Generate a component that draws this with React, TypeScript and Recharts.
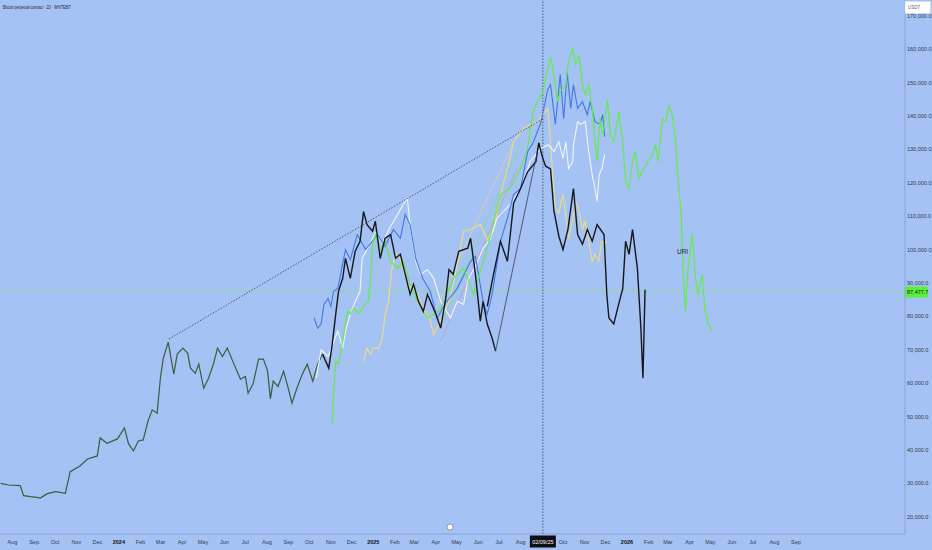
import React from 'react';
import {
  ComposedChart,
  Line,
  XAxis,
  YAxis,
  ReferenceLine,
  ReferenceDot,
} from 'recharts';

// month ticks on the time axis (Sep 2025 is covered by the cursor date tag)
const monthTicks: string[] = [
  '2023-08-01', '2023-09-01', '2023-10-01', '2023-11-01', '2023-12-01',
  '2024-01-01', '2024-02-01', '2024-03-01', '2024-04-01', '2024-05-01', '2024-06-01',
  '2024-07-01', '2024-08-01', '2024-09-01', '2024-10-01', '2024-11-01', '2024-12-01',
  '2025-01-01', '2025-02-01', '2025-03-01', '2025-04-01', '2025-05-01', '2025-06-01',
  '2025-07-01', '2025-08-01', '2025-10-01', '2025-11-01', '2025-12-01',
  '2026-01-01', '2026-02-01', '2026-03-01', '2026-04-01', '2026-05-01', '2026-06-01',
  '2026-07-01', '2026-08-01', '2026-09-01',
];
const monthLabels: string[] = [
  'Aug', 'Sep', 'Oct', 'Nov', 'Dec',
  '2024', 'Feb', 'Mar', 'Apr', 'May', 'Jun', 'Jul', 'Aug', 'Sep', 'Oct', 'Nov', 'Dec',
  '2025', 'Feb', 'Mar', 'Apr', 'May', 'Jun', 'Jul', 'Aug', 'Oct', 'Nov', 'Dec',
  '2026', 'Feb', 'Mar', 'Apr', 'May', 'Jun', 'Jul', 'Aug', 'Sep',
];
const priceTicks: number[] = [
  20000, 30000, 40000, 50000, 60000, 70000, 80000, 90000,
  100000, 110000, 120000, 130000, 140000, 150000, 160000, 170000,
];

const lastPrice = 87477.7;
const cursorDate = '2025-09-02';

// daily candles, sampled
const candles: [string, number][] = [
  ['2023-07-15', 30000], ['2023-07-26', 29500], ['2023-08-12', 29300], ['2023-08-17', 26300],
  ['2023-08-27', 26000], ['2023-09-05', 25800], ['2023-09-10', 25600], ['2023-09-20', 26900],
  ['2023-10-02', 27500], ['2023-10-16', 27000], ['2023-10-23', 33500], ['2023-11-06', 35200],
  ['2023-11-17', 37300], ['2023-12-01', 38200], ['2023-12-05', 43600], ['2023-12-15', 42000],
  ['2023-12-30', 43300], ['2024-01-09', 46600], ['2024-01-15', 41800], ['2024-01-22', 39700],
  ['2024-01-29', 42700], ['2024-02-05', 43000], ['2024-02-12', 48700], ['2024-02-18', 52000],
  ['2024-02-25', 51000], ['2024-03-01', 62000], ['2024-03-05', 67500], ['2024-03-12', 72300],
  ['2024-03-20', 62700], ['2024-03-25', 68700], ['2024-04-02', 70500], ['2024-04-09', 69000],
  ['2024-04-13', 64500], ['2024-04-20', 63000], ['2024-04-25', 65700], ['2024-05-02', 58500],
  ['2024-05-09', 61500], ['2024-05-16', 65700], ['2024-05-22', 70500], ['2024-05-29', 68000],
  ['2024-06-05', 70500], ['2024-06-14', 66000], ['2024-06-24', 61200], ['2024-07-01', 62000],
  ['2024-07-05', 57000], ['2024-07-12', 59700], ['2024-07-20', 67200], ['2024-07-27', 67200],
  ['2024-08-02', 63600], ['2024-08-06', 55300], ['2024-08-10', 60600], ['2024-08-17', 59000],
  ['2024-08-25', 63600], ['2024-09-01', 58200], ['2024-09-06', 54000], ['2024-09-14', 59000],
  ['2024-09-21', 62700], ['2024-09-28', 65700], ['2024-10-06', 60600], ['2024-10-13', 65700],
  ['2024-10-20', 68700],
];

const blackA: [string, number][] = [
  ['2024-10-20', 68700], ['2024-10-29', 64500], ['2024-11-03', 71700], ['2024-11-08', 80700],
  ['2024-11-12', 87500], ['2024-11-18', 91400], ['2024-11-22', 97400], ['2024-11-29', 91400],
  ['2024-12-06', 99500], ['2024-12-13', 102500], ['2024-12-18', 111400], ['2024-12-23', 107500],
  ['2024-12-31', 105500], ['2025-01-04', 108500], ['2025-01-11', 97400], ['2025-01-18', 103400],
  ['2025-01-26', 104500], ['2025-02-02', 97400], ['2025-02-09', 98600], ['2025-02-16', 92600],
  ['2025-02-23', 86600], ['2025-02-28', 89600], ['2025-03-07', 84500], ['2025-03-14', 81500],
  ['2025-03-20', 86600], ['2025-04-01', 80700], ['2025-04-08', 76500], ['2025-04-15', 85000],
  ['2025-04-20', 94000], ['2025-04-26', 92600], ['2025-05-04', 99500], ['2025-05-17', 100400],
  ['2025-05-21', 103400], ['2025-05-28', 92600], ['2025-06-04', 78600], ['2025-06-08', 84500],
  ['2025-06-14', 77700], ['2025-06-21', 73500], ['2025-06-26', 69600],
];

const blackB: [string, number][] = [
  ['2025-06-14', 83000], ['2025-06-23', 92600], ['2025-07-03', 102500], ['2025-07-13', 96500],
  ['2025-07-22', 114000], ['2025-08-01', 118300], ['2025-08-11', 123300], ['2025-08-23', 126300],
  ['2025-08-27', 132000], ['2025-09-02', 127300], ['2025-09-06', 125000], ['2025-09-13', 124200],
  ['2025-09-18', 111500], ['2025-09-25', 104000], ['2025-10-01', 100000], ['2025-10-08', 106000],
  ['2025-10-16', 118300], ['2025-10-22', 104500], ['2025-10-29', 101600], ['2025-11-05', 106000],
  ['2025-11-12', 102500], ['2025-11-19', 107500], ['2025-11-29', 104500], ['2025-12-03', 86600],
  ['2025-12-06', 79500], ['2025-12-13', 77700], ['2025-12-20', 83600], ['2025-12-26', 88400],
  ['2025-12-30', 102500], ['2026-01-04', 98600], ['2026-01-09', 106000], ['2026-01-16', 94400],
  ['2026-01-21', 76500], ['2026-01-24', 61500], ['2026-01-27', 88000],
];

const jumpLine: [string, number][] = [['2025-06-26', 69600], ['2025-08-25', 129300]];

const blueLine: [string, number][] = [
  ['2024-10-08', 79500], ['2024-10-13', 76500], ['2024-10-18', 77700], ['2024-10-22', 83600],
  ['2024-10-28', 85400], ['2024-11-01', 83000], ['2024-11-05', 87500], ['2024-11-11', 88400],
  ['2024-11-22', 100000], ['2024-11-29', 97000], ['2024-12-09', 104500], ['2024-12-21', 100000],
  ['2025-01-07', 104500], ['2025-01-18', 101000], ['2025-01-30', 106000], ['2025-02-09', 103400],
  ['2025-02-16', 110500], ['2025-02-23', 107500], ['2025-03-03', 97400], ['2025-03-13', 91400],
  ['2025-03-24', 87500], ['2025-04-03', 79500], ['2025-04-15', 84000], ['2025-05-02', 88400],
  ['2025-05-21', 96500], ['2025-05-28', 98000], ['2025-06-08', 84500], ['2025-06-14', 80700],
  ['2025-06-21', 86600], ['2025-07-03', 102500], ['2025-07-13', 109400], ['2025-07-22', 116500],
  ['2025-08-01', 118300], ['2025-08-11', 129300], ['2025-08-19', 132000], ['2025-08-30', 138000],
  ['2025-09-09', 148000], ['2025-09-13', 149400], ['2025-09-20', 137500], ['2025-09-27', 152400],
  ['2025-10-02', 139200], ['2025-10-07', 153000], ['2025-10-12', 142300], ['2025-10-16', 149400],
  ['2025-10-22', 142300], ['2025-10-29', 144300], ['2025-11-05', 140400], ['2025-11-09', 144300],
  ['2025-11-16', 138300], ['2025-11-23', 137500], ['2025-11-27', 140400], ['2025-11-30', 133800],
];

const greenLine: [string, number][] = [
  ['2024-11-03', 47800], ['2024-11-05', 57600], ['2024-11-08', 66600], ['2024-11-12', 65700],
  ['2024-11-18', 72600], ['2024-11-25', 81500], ['2024-11-29', 80700], ['2024-12-04', 82500],
  ['2024-12-11', 80700], ['2024-12-18', 83000], ['2024-12-25', 84500], ['2024-12-28', 91400],
  ['2024-12-31', 101600], ['2025-01-04', 104500], ['2025-01-11', 99500], ['2025-01-18', 102500],
  ['2025-01-26', 96500], ['2025-02-05', 94400], ['2025-02-13', 96500], ['2025-02-23', 89600],
  ['2025-03-06', 84500], ['2025-03-14', 81500], ['2025-03-21', 79500], ['2025-04-08', 82000],
  ['2025-04-26', 91400], ['2025-05-11', 94400], ['2025-05-25', 86600], ['2025-06-14', 100400],
  ['2025-07-03', 116500], ['2025-07-17', 118300], ['2025-08-01', 124300], ['2025-08-11', 130300],
  ['2025-08-19', 141300], ['2025-08-25', 144300], ['2025-09-02', 147300], ['2025-09-09', 154200],
  ['2025-09-13', 157800], ['2025-09-18', 152400], ['2025-09-23', 144300], ['2025-09-27', 147300],
  ['2025-10-05', 149400], ['2025-10-09', 156300], ['2025-10-15', 160200], ['2025-10-19', 155400],
  ['2025-10-24', 158300], ['2025-10-29', 149400], ['2025-11-02', 146400], ['2025-11-07', 149400],
  ['2025-11-12', 142300], ['2025-11-16', 132300], ['2025-11-19', 126400], ['2025-11-23', 139200],
  ['2025-11-27', 134400], ['2025-12-04', 144900], ['2025-12-08', 134400], ['2025-12-13', 132300],
  ['2025-12-20', 141300], ['2025-12-26', 132300], ['2025-12-30', 120300], ['2026-01-04', 118300],
  ['2026-01-09', 126400], ['2026-01-13', 129400], ['2026-01-18', 121300], ['2026-01-25', 124300],
  ['2026-01-31', 126400], ['2026-02-07', 128500], ['2026-02-11', 131400], ['2026-02-15', 126400],
  ['2026-02-21', 139200], ['2026-02-26', 138300], ['2026-03-02', 143400], ['2026-03-07', 140400],
  ['2026-03-12', 132300], ['2026-03-16', 120300], ['2026-03-20', 110500], ['2026-03-23', 92600],
  ['2026-03-26', 81500], ['2026-03-30', 94400], ['2026-04-05', 104500], ['2026-04-09', 92600],
  ['2026-04-13', 86600], ['2026-04-19', 92600], ['2026-04-23', 82500], ['2026-04-28', 77700],
  ['2026-05-04', 75600],
];

const whiteLine: [string, number][] = [
  ['2024-10-11', 61500], ['2024-10-18', 70000], ['2024-10-28', 68000], ['2024-11-11', 75600],
  ['2024-11-18', 70500], ['2024-11-22', 75600], ['2024-11-29', 80700], ['2024-12-06', 84500],
  ['2024-12-13', 87500], ['2024-12-16', 97400], ['2024-12-23', 100000], ['2025-01-04', 105000],
  ['2025-01-14', 102000], ['2025-01-26', 107000], ['2025-02-05', 110500], ['2025-02-13', 113500],
  ['2025-02-19', 115300], ['2025-02-23', 107500], ['2025-03-03', 96500], ['2025-03-10', 92600],
  ['2025-03-20', 94000], ['2025-03-29', 91400], ['2025-04-08', 84500], ['2025-04-22', 79500],
  ['2025-05-02', 84500], ['2025-05-11', 83600], ['2025-05-17', 91000], ['2025-05-28', 95000],
  ['2025-06-08', 100400], ['2025-06-18', 103000], ['2025-06-28', 109400], ['2025-07-17', 113500],
  ['2025-08-01', 118300], ['2025-08-15', 126400], ['2025-08-30', 130300], ['2025-09-10', 131400],
  ['2025-09-18', 129400], ['2025-09-25', 132300], ['2025-10-01', 127300], ['2025-10-05', 132300],
  ['2025-10-09', 124300], ['2025-10-15', 126400], ['2025-10-16', 131400], ['2025-10-22', 138300],
  ['2025-10-26', 137500], ['2025-11-02', 138300], ['2025-11-07', 129400], ['2025-11-12', 122400],
  ['2025-11-15', 119500], ['2025-11-19', 114400], ['2025-11-22', 122400], ['2025-11-26', 124300],
  ['2025-11-30', 128500],
];

const yellowLine: [string, number][] = [
  ['2024-12-18', 66600], ['2024-12-23', 70500], ['2024-12-28', 68700], ['2025-01-01', 70500],
  ['2025-01-09', 70500], ['2025-01-14', 73500], ['2025-01-18', 80700], ['2025-01-23', 84500],
  ['2025-01-27', 93500], ['2025-02-02', 98600], ['2025-02-09', 97400], ['2025-02-19', 89600],
  ['2025-03-03', 87500], ['2025-03-14', 82500], ['2025-03-24', 78600], ['2025-03-29', 74700],
  ['2025-04-08', 79000], ['2025-04-22', 85400], ['2025-05-11', 105500], ['2025-05-21', 106000],
  ['2025-06-04', 107500], ['2025-06-14', 103000], ['2025-06-23', 106000], ['2025-07-03', 116500],
  ['2025-07-13', 124300], ['2025-07-22', 132300], ['2025-08-05', 136300], ['2025-08-15', 137500],
  ['2025-08-25', 138300], ['2025-09-09', 142300], ['2025-09-13', 132300], ['2025-09-16', 122400],
  ['2025-09-20', 112300], ['2025-09-25', 111000], ['2025-10-01', 116500], ['2025-10-05', 110000],
  ['2025-10-09', 103400], ['2025-10-15', 109000], ['2025-10-19', 114400], ['2025-10-24', 112000],
  ['2025-10-29', 106000], ['2025-11-02', 108500], ['2025-11-07', 102500], ['2025-11-12', 96500],
  ['2025-11-16', 98600], ['2025-11-21', 96500], ['2025-11-26', 102500], ['2025-11-30', 101600],
  ['2025-12-03', 102500],
];

// thin projection guides
const guideYellow: [string, number][] = [['2025-03-24', 78600], ['2025-07-22', 132300]];
const guideGreen: [string, number][] = [['2025-04-08', 77700], ['2025-08-01', 131700]];
const guidePink: [string, number][] = [['2025-04-08', 72600], ['2025-07-27', 124300]];

// dotted trend from the March 2024 top
const trendLine: [string, number][] = [['2024-03-13', 73200], ['2025-09-02', 139200]];

const toT = (d: string) => Date.parse(d + 'T00:00:00Z');
const rows = (list: [string, number][]) => list.map(([d, v]) => ({ t: toT(d), v }));

const tickTimes = monthTicks.map(toT);
const BG = '#a4c2f4';
const AXIS = '#89a5d3';
const TEXT = '#333c4a';
const FONT = '"Liberation Sans", Arial, sans-serif';

function TimeTick({ x, y, payload }: any) {
  const label = monthLabels[tickTimes.indexOf(payload.value)] ?? '';
  const isYear = /^\d{4}$/.test(label);
  return (
    <text x={x} y={y + 10} textAnchor="middle" fontSize={5.5} fontWeight={isYear ? 700 : 400}
      fill={isYear ? '#111' : TEXT} fontFamily={FONT}>
      {label}
    </text>
  );
}

function PriceTick({ x, y, payload }: any) {
  return (
    <text x={x + 2} y={y + 2} textAnchor="start" fontSize={5.5} fill={TEXT} fontFamily={FONT}>
      {payload.value.toLocaleString('en-US', { minimumFractionDigits: 1 })}
    </text>
  );
}

function PriceTag({ viewBox }: any) {
  const right = viewBox.x + viewBox.width;
  return (
    <g>
      <rect x={right} y={viewBox.y - 5} width={23} height={11} fill="#5af03c" rx={1} />
      <text x={right + 2} y={viewBox.y + 2.2} fontSize={5.5} fill="#152015" fontFamily={FONT}>
        {lastPrice.toLocaleString('en-US', { minimumFractionDigits: 1 })}
      </text>
    </g>
  );
}

function DateTag({ viewBox }: any) {
  const bottom = viewBox.y + viewBox.height;
  const [yy, mm, dd] = cursorDate.split('-');
  return (
    <g>
      <rect x={viewBox.x - 13} y={bottom + 1.5} width={26} height={12} fill="#0d0f14" />
      <text x={viewBox.x} y={bottom + 9.7} textAnchor="middle" fontSize={5.5} fill="#fff" fontFamily={FONT}>
        {`${dd}/${mm}/${yy.slice(2)}`}
      </text>
    </g>
  );
}

const lineProps = {
  dataKey: 'v',
  type: 'linear' as const,
  dot: false,
  activeDot: false,
  isAnimationActive: false,
};

export default function App() {
  return (
    <div style={{ position: 'absolute', left: 0, top: 0, width: 932, height: 550, background: BG }}>
      <ComposedChart width={932} height={550} margin={{ top: 0, right: 0, bottom: 0, left: 0 }}>
        <XAxis
          dataKey="t"
          type="number"
          scale="time"
          domain={[toT('2023-07-14'), toT('2027-02-05')]}
          allowDataOverflow
          ticks={tickTimes}
          interval={0}
          tick={<TimeTick />}
          tickLine={false}
          tickSize={0}
          tickMargin={0}
          height={16}
          stroke={AXIS}
        />
        <YAxis
          orientation="right"
          type="number"
          domain={[14819, 174765]}
          allowDataOverflow
          ticks={priceTicks}
          interval={0}
          tick={<PriceTick />}
          tickLine={false}
          tickSize={0}
          tickMargin={0}
          width={27}
          stroke={AXIS}
        />
        <ReferenceLine y={lastPrice} stroke="#8fdc8a" strokeWidth={0.8} label={<PriceTag />} />
        <ReferenceLine x={toT(cursorDate)} stroke="#3a3f4a" strokeWidth={0.8} strokeDasharray="1.5 1.5" label={<DateTag />} />

        <Line {...lineProps} data={rows(candles)} stroke="#3a5d3c" strokeWidth={1.2} />
        <Line {...lineProps} data={rows(guideYellow)} stroke="#eedb7c" strokeWidth={0.6} />
        <Line {...lineProps} data={rows(guideGreen)} stroke="#72e86a" strokeWidth={0.6} />
        <Line {...lineProps} data={rows(guidePink)} stroke="#d4909c" strokeWidth={0.6} />
        <Line {...lineProps} data={rows(yellowLine)} stroke="#f1dc80" strokeWidth={1.1} />
        <Line {...lineProps} data={rows(whiteLine)} stroke="#f3f6ff" strokeWidth={1.1} />
        <Line {...lineProps} data={rows(blueLine)} stroke="#4576e6" strokeWidth={1.1} />
        <Line {...lineProps} data={rows(greenLine)} stroke="#5ef03a" strokeWidth={1.1} />
        <Line {...lineProps} data={rows(blackA)} stroke="#15171c" strokeWidth={1.4} />
        <Line {...lineProps} data={rows(blackB)} stroke="#15171c" strokeWidth={1.4} />
        <Line {...lineProps} data={rows(jumpLine)} stroke="#3a3f4a" strokeWidth={0.8} />
        <Line {...lineProps} data={rows(trendLine)} stroke="#3a3f4a" strokeWidth={0.8} strokeDasharray="1.5 1.5" />

        <ReferenceDot x={toT('2026-03-22')} y={99500} r={1} fill="none" stroke="none"
          label={{ value: 'URI', position: 'center', fontSize: 6.5, fill: '#1d2230', fontFamily: FONT }} />
      </ComposedChart>

      <svg width={932} height={550} style={{ position: 'absolute', left: 0, top: 0, pointerEvents: 'none' }}>
        <text x={3} y={9} fontSize={5} fill="#1f2633" fontFamily={FONT} textLength={68} lengthAdjust="spacingAndGlyphs">
          Bitcoin perpetual contract · 1D · WHITEBIT
        </text>
        <rect x={905} y={1.5} width={25.5} height={12} fill="#ffffff" stroke="#d0d8e6" strokeWidth={0.5} />
        <text x={908} y={9.3} fontSize={4.5} fill="#5b6270" fontFamily={FONT}>USDT</text>
        <circle cx={450} cy={527} r={3} fill="#ffffff" stroke="#5b6270" strokeWidth={0.6} />
      </svg>
    </div>
  );
}
